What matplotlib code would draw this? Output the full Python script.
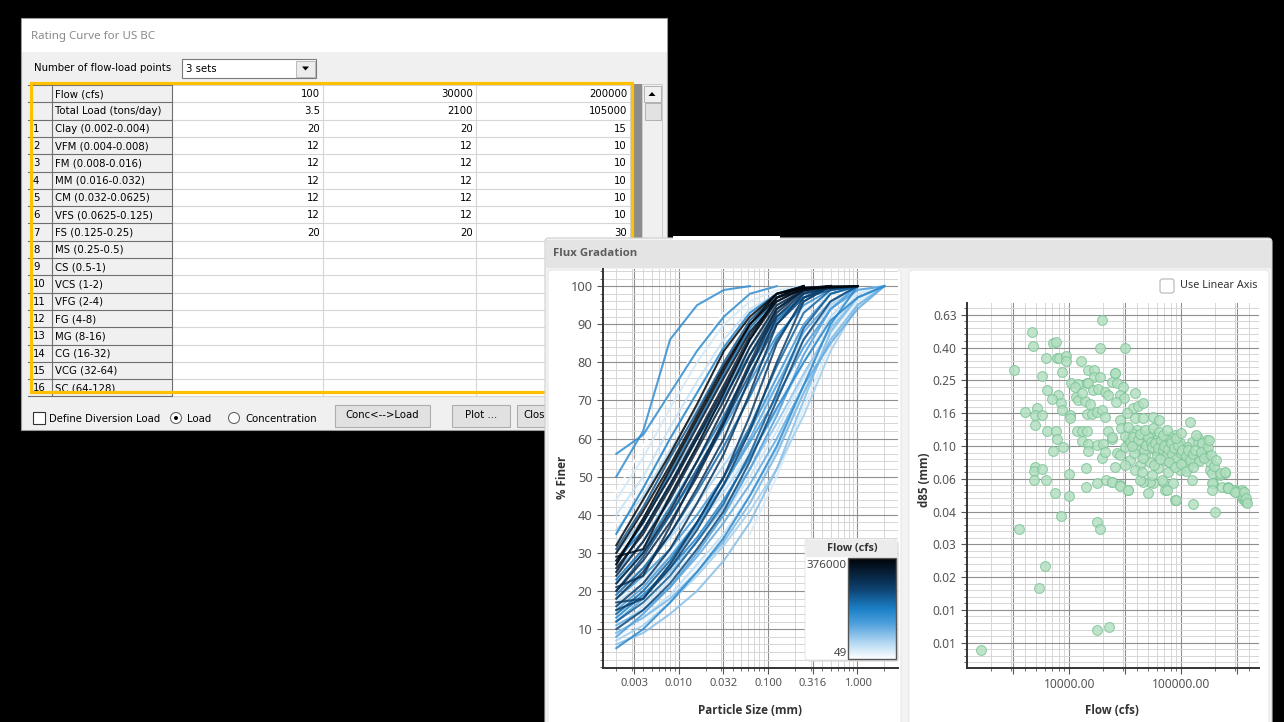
import numpy as np
import matplotlib.pyplot as plt
from matplotlib.patches import Rectangle, Circle, Polygon, FancyBboxPatch
from matplotlib.colors import LinearSegmentedColormap, Normalize
from matplotlib.cm import ScalarMappable
from matplotlib.ticker import FixedLocator, LogLocator, NullFormatter

plt.rcParams['font.family'] = ['Noto Sans', 'DejaVu Sans']

# ---------------- rating curve table ----------------
row_nums = ['', '', '1', '2', '3', '4', '5', '6', '7', '8', '9', '10', '11', '12', '13', '14', '15', '16']
row_names = ['Flow (cfs)', 'Total Load (tons/day)', 'Clay (0.002-0.004)', 'VFM (0.004-0.008)',
             'FM (0.008-0.016)', 'MM (0.016-0.032)', 'CM (0.032-0.0625)', 'VFS (0.0625-0.125)',
             'FS (0.125-0.25)', 'MS (0.25-0.5)', 'CS (0.5-1)', 'VCS (1-2)', 'VFG (2-4)', 'FG (4-8)',
             'MG (8-16)', 'CG (16-32)', 'VCG (32-64)', 'SC (64-128)']
set1 = ['100', '3.5', '20', '12', '12', '12', '12', '12', '20']
set2 = ['30000', '2100', '20', '12', '12', '12', '12', '12', '20']
set3 = ['200000', '105000', '15', '10', '10', '10', '10', '10', '30']

# ---------------- flux gradation curves ----------------
size_classes = [0.002, 0.004, 0.008, 0.016, 0.032, 0.0625, 0.125, 0.25, 0.5, 1.0, 2.0]
nan = np.nan
curve_flows = [3500, 6000, 9000, 12000, 15000, 18000, 22000, 26000, 30000,
               35000, 40000, 45000, 50000, 55000, 60000, 66000, 72000, 78000, 85000, 92000,
               100000, 108000, 115000, 122000, 130000, 138000, 146000, 154000, 160000, 164000,
               170000, 176000, 182000, 188000,
               196000, 204000, 212000, 220000, 228000, 236000, 244000, 252000,
               262000, 270000, 278000, 286000, 294000, 302000, 310000, 318000, 326000, 334000,
               342000, 350000, 358000, 366000, 376000]
curve_finer = [
    [46, 58, 72, 84, 93, 98, 100],
    [12, 17, 24, 33, 43, 54, 66, 80, 92, 98, 100],
    [38, 48, 60, 72, 84, 93, 98, 100],
    [22, 27, 35, 44, 54, 65, 76, 87, 95, 99, 100],
    [8, 12, 18, 26, 35, 46, 59, 73, 87, 96, 100],
    [33, 42, 53, 64, 75, 85, 93, 98, 100],
    [18, 23, 30, 38, 47, 57, 68, 82, 94, 100],
    [26, 33, 43, 54, 65, 76, 86, 94, 98, 100],
    [nan, nan, nan, nan, nan, 35, 50, 68, 85, 96, 100],
    [44, 55, 68, 80, 90, 96, 99, 100],
    [10, 16, 23, 31, 40, 50, 62, 76, 90, 98, 100],
    [40, 50, 63, 75, 86, 94, 98, 100],
    [9, 13, 19, 27, 35, 45, 57, 72, 88, 97, 100],
    [17, 22, 29, 37, 46, 56, 67, 80, 92, 99, 100],
    [36, 45, 57, 68, 79, 88, 95, 99, 100],
    [20, 26, 34, 43, 53, 63, 74, 86, 95, 100],
    [7, 11, 17, 24, 32, 41, 52, 66, 83, 95, 100],
    [30, 39, 50, 61, 72, 82, 91, 97, 100],
    [14, 19, 25, 33, 42, 52, 64, 77, 89, 97, 100],
    [6, 9, 14, 20, 28, 38, 52, 70, 88, 97, 100],
    [9, 13, 18, 25, 33, 43, 56, 72, 86, 95, 100],
    [25, 33, 45, 58, 72, 84, 94, 99, 100],
    [11, 15, 21, 29, 38, 48, 60, 74, 85, 94, 100],
    [12, 18, 27, 37, 48, 60, 74, 88, 96, 100],
    [8, 14, 21, 30, 40, 52, 66, 82, 94, 99, 100],
    [15, 21, 29, 38, 48, 59, 71, 84, 94, 100],
    [18, 24, 31, 40, 50, 62, 76, 90, 98, 100],
    [22, 30, 40, 51, 63, 75, 87, 95, 99, 100],
    [50, 62, 86, 95, 99, 100],
    [56, 61, 72, 83, 92, 98, 100],
    [5, 10, 17, 25, 34, 45, 58, 74, 90, 100],
    [13, 19, 26, 34, 44, 55, 68, 80, 91, 97, 100],
    [35, 47, 60, 72, 84, 93, 98, 100],
    [28, 36, 48, 60, 71, 82, 92, 97, 100],
    [27, 38, 51, 64, 77, 89, 97, 100],
    [23, 31, 42, 54, 66, 79, 91, 98, 100],
    [19, 26, 35, 46, 58, 71, 86, 96, 100],
    [14, 20, 28, 38, 50, 63, 79, 93, 99, 100],
    [12, 17, 24, 33, 43, 56, 72, 89, 98, 100],
    [31, 42, 55, 67, 80, 91, 98, 100],
    [20, 29, 40, 52, 64, 77, 90, 97, 99, 100],
    [10, 15, 22, 31, 41, 54, 70, 86, 96, 100],
    [17, 18, 26, 36, 48, 62, 80, 96, 100],
    [15, 18, 27, 38, 50, 66, 85, 97, 100],
    [16, 22, 31, 43, 56, 72, 90, 98, 99.5, 100],
    [18, 25, 35, 47, 60, 76, 92, 98.5, 100],
    [21, 24, 37, 51, 65, 80, 94, 99, 100],
    [20, 28, 38, 50, 64, 79, 93, 99, 100],
    [22, 30, 41, 54, 68, 82, 94, 99, 99.5, 100],
    [24, 33, 44, 57, 70, 84, 95, 99, 100],
    [25, 36, 48, 61, 74, 87, 97, 100],
    [26, 35, 47, 60, 73, 86, 96, 99.5, 100, 100],
    [28, 38, 50, 63, 76, 88, 96, 99.5, 100],
    [29, 31, 45, 58, 72, 86, 97, 100],
    [30, 41, 53, 66, 79, 90, 97, 99, 100],
    [32, 44, 56, 69, 83, 92, 98, 100],
    [27, 39, 52, 65, 78, 90, 98, 99.5, 99.7, 100],
]
flow_min, flow_max = 49, 376000

# ---------------- d85 vs flow ----------------
pt_flow = [
    19530, 4620, 4720, 18740, 7120, 7570, 3190, 6170, 7730, 8060,
    9310, 9310, 12670, 8570, 5680, 14640, 16560, 16560, 18740, 25480,
    10300, 11910, 14340, 6300, 7890, 6980, 8390, 8570, 4010, 5130,
    4910, 5680, 10100, 10100, 11430, 11910, 13760, 15270, 11190, 12930,
    14640, 16230, 17990, 20760, 22070, 14340, 15900, 17620, 19530, 20760,
    4910, 6300, 7570, 7730, 7120, 8750, 11660, 12930, 14340, 12930,
    14640, 14640, 17620, 19930, 19530, 20760, 22070, 23970, 4910, 4810,
    5680, 4810, 6170, 9900, 14050, 14050, 17620, 21190, 23970, 7420,
    9900, 8390, 3540, 17620, 18740, 6040, 5340, 17620, 22530, 1620,
    31310, 25480, 23970, 26550, 30060, 28260, 30680, 26010, 38410, 36870,
    40840, 45230, 32620, 28260, 38410, 45230, 55490, 62730, 118300, 23970,
    26550, 25480, 23970, 28260, 33290, 50100, 86980, 125800, 197900, 178700,
    190000, 219200, 243100, 253300, 299000, 345800, 352900, 375300, 123300, 83500,
    70920, 68080, 66700, 55490, 52190, 45230, 42540, 167800, 139600, 123300,
    154600, 161100, 145400, 118300, 111300, 96340, 86980, 78540, 73870, 64030,
    60220, 52190, 49080, 44320, 40010, 36120, 33290, 31310, 34680, 42540,
    52190, 61470, 70920, 81810, 96340, 106800, 131100, 47110, 57810, 38410,
    31310, 66700, 92480, 75400, 113600, 44320, 54370, 28260, 139600, 151500,
    167800, 178700, 186200, 219200, 243100, 186200, 186200, 228300, 258500, 287000,
    311400, 345800, 352900, 367700, 28260, 33290, 73870, 88780, 258500, 299000,
    360200, 375300, 383000,
    29000, 31000, 33000, 35000, 37000, 39000, 41000, 43000, 46000, 48000,
    50000, 53000, 55000, 58000, 60000, 62000, 65000, 68000, 70000, 72000,
    76000, 80000, 83000, 85000, 89000, 93000, 98000, 102000, 105000, 109000,
    115000, 120000, 126000, 133000, 142000, 150000, 158000, 172000, 182000, 195000,
    205000, 38000, 45000, 57000, 64000, 78000, 88000, 99000, 110000, 128000,
    36000, 47000, 56000, 63000, 69000, 74000, 90000, 100000, 134000, 175000,
]
pt_d85 = [
    0.586, 0.499, 0.407, 0.396, 0.424, 0.431, 0.290, 0.344, 0.344, 0.344,
    0.354, 0.330, 0.330, 0.282, 0.267, 0.290, 0.290, 0.263, 0.263, 0.278,
    0.242, 0.239, 0.242, 0.219, 0.204, 0.193, 0.183, 0.166, 0.161, 0.170,
    0.155, 0.155, 0.155, 0.148, 0.198, 0.191, 0.188, 0.180, 0.229, 0.210,
    0.242, 0.219, 0.223, 0.213, 0.204, 0.156, 0.156, 0.161, 0.166, 0.150,
    0.134, 0.123, 0.123, 0.110, 0.093, 0.0986, 0.123, 0.123, 0.123, 0.107,
    0.103, 0.093, 0.101, 0.103, 0.0845, 0.092, 0.123, 0.110, 0.0745, 0.0704,
    0.0724, 0.0620, 0.0620, 0.0675, 0.0734, 0.0562, 0.0595, 0.0620, 0.0603, 0.0517,
    0.0496, 0.0374, 0.0312, 0.0344, 0.0312, 0.0186, 0.0136, 0.0075, 0.0079, 0.0057,
    0.396, 0.278, 0.245, 0.242, 0.229, 0.204, 0.195, 0.185, 0.210, 0.170,
    0.175, 0.183, 0.159, 0.144, 0.148, 0.148, 0.150, 0.144, 0.140, 0.1135,
    0.0906, 0.0745, 0.0603, 0.0579, 0.0539, 0.0517, 0.0469, 0.0443, 0.0396, 0.0714,
    0.0595, 0.0666, 0.0685, 0.0555, 0.0539, 0.0524, 0.0475, 0.0456, 0.0620, 0.0595,
    0.0539, 0.0603, 0.0620, 0.0595, 0.0603, 0.0603, 0.0620, 0.109, 0.112, 0.106,
    0.0986, 0.088, 0.0857, 0.092, 0.0986, 0.104, 0.117, 0.1135, 0.109, 0.101,
    0.1135, 0.120, 0.109, 0.104, 0.125, 0.120, 0.109, 0.0986, 0.0822, 0.0766,
    0.0799, 0.0734, 0.0822, 0.0766, 0.0714, 0.0845, 0.0799, 0.088, 0.0945, 0.0714,
    0.0766, 0.092, 0.092, 0.0694, 0.0734, 0.0694, 0.0666, 0.088, 0.106, 0.104,
    0.092, 0.0799, 0.0685, 0.0685, 0.0694, 0.0595, 0.0539, 0.0562, 0.0562, 0.0539,
    0.0524, 0.0539, 0.0489, 0.0469, 0.0570, 0.0539, 0.0539, 0.0469, 0.0555, 0.0524,
    0.0524, 0.0482, 0.0450,
    0.128, 0.115, 0.131, 0.105, 0.113, 0.097, 0.108, 0.118, 0.095, 0.101,
    0.114, 0.106, 0.098, 0.104, 0.088, 0.097, 0.108, 0.094, 0.100, 0.087,
    0.096, 0.104, 0.089, 0.097, 0.083, 0.101, 0.090, 0.095, 0.079, 0.087,
    0.094, 0.082, 0.089, 0.095, 0.081, 0.092, 0.084, 0.098, 0.088, 0.075,
    0.082, 0.091, 0.084, 0.077, 0.083, 0.080, 0.074, 0.078, 0.070, 0.074,
    0.100, 0.125, 0.128, 0.122, 0.117, 0.126, 0.112, 0.120, 0.116, 0.108,
]

W, H = 1284, 722
fig = plt.figure(figsize=(W / 100, H / 100), dpi=100, facecolor='black')

bg = fig.add_axes([0, 0, 1, 1])
bg.set_xlim(0, W)
bg.set_ylim(H, 0)
bg.axis('off')


def px_axes(x0, y0, x1, y1, **kw):
    return fig.add_axes([x0 / W, 1 - y1 / H, (x1 - x0) / W, (y1 - y0) / H], **kw)


ui = dict(family=['DejaVu Sans'], fontsize=7.3, color='black', va='center')
bold = ['Open Sans', 'DejaVu Sans']

# ---- dialog window ----
bg.add_patch(Rectangle((21, 18), 646, 412, fc='#f0f0f0', ec='#9a9a9a', lw=0.8))
bg.add_patch(Rectangle((21.5, 18.5), 645, 33, fc='white', ec='none'))
bg.text(31, 36, 'Rating Curve for US BC', fontsize=8.3, color='#8a8a8a', va='center')
bg.text(34, 68, 'Number of flow-load points', **ui)
bg.add_patch(Rectangle((182, 59), 134, 19, fc='white', ec='#7a7a7a', lw=0.8))
bg.text(186, 68.5, '3 sets', **ui)
bg.add_patch(Rectangle((296, 60.5), 18.5, 16, fc='#ececec', ec='#b0b0b0', lw=0.6))
bg.add_patch(Polygon([[302, 66.5], [309, 66.5], [305.5, 70.5]], fc='black'))

# table
row_top, row_h = 85, 17.3
n_rows = len(row_names)
tab_bot = row_top + n_rows * row_h
bg.add_patch(Rectangle((28, 84), 144, tab_bot - 84, fc='#f0f0f0', ec='none'))
bg.add_patch(Rectangle((172, 84), 458, tab_bot - 84, fc='white', ec='none'))
bg.add_patch(Rectangle((630, 84), 12, tab_bot - 84, fc='#8c8c8c', ec='none'))
for i in range(n_rows + 1):
    y = row_top + i * row_h
    bg.plot([28, 172], [y, y], color='#6e6e6e', lw=0.8)
    bg.plot([172, 630], [y, y], color='#d6d6d6', lw=0.8)
for x in [52, 172]:
    bg.plot([x, x], [84, tab_bot], color='#6e6e6e', lw=0.8)
for x in [323, 476, 630]:
    bg.plot([x, x], [84, tab_bot], color='#d6d6d6', lw=0.8)
for i, (num, name) in enumerate(zip(row_nums, row_names)):
    yc = row_top + (i + 0.5) * row_h + 0.5
    bg.text(33, yc, num, **ui)
    bg.text(55, yc, name, **ui)
for i in range(len(set1)):
    yc = row_top + (i + 0.5) * row_h + 0.5
    bg.text(320, yc, set1[i], ha='right', **ui)
    bg.text(473, yc, set2[i], ha='right', **ui)
    bg.text(627, yc, set3[i], ha='right', **ui)
bg.add_patch(Rectangle((28, tab_bot), 614, 400 - tab_bot, fc='#f0f0f0', ec='none'))

# scrollbar
bg.add_patch(Rectangle((642, 84), 20, 314, fc='#f0f0f0', ec='#c8c8c8', lw=0.6))
bg.add_patch(Rectangle((643.5, 85.5), 17, 16, fc='#f0f0f0', ec='#a8a8a8', lw=0.6))
bg.add_patch(Polygon([[648.5, 96], [655.5, 96], [652, 92]], fc='black'))
bg.add_patch(Rectangle((644.5, 102.5), 16, 17, fc='#e2e2e2', ec='#a8a8a8', lw=0.6))

# highlight rectangle
bg.add_patch(Rectangle((31, 83), 601, 309, fill=False, ec='#ffc000', lw=2.3, zorder=5))

# bottom controls
bg.add_patch(Rectangle((33, 412), 12, 12, fc='white', ec='#333333', lw=0.8))
bg.text(49, 418.5, 'Define Diversion Load', **ui)
bg.add_patch(Circle((176, 418), 5.5, fc='white', ec='#666666', lw=0.8))
bg.add_patch(Circle((176, 418), 2, fc='black', ec='none'))
bg.text(187, 418.5, 'Load', **ui)
bg.add_patch(Circle((234, 418), 5.5, fc='white', ec='#666666', lw=0.8))
bg.text(245, 418.5, 'Concentration', **ui)
for bx, bw, lab in [(335, 95, 'Conc<-->Load'), (452, 58, 'Plot ...'), (517, 40, 'Close')]:
    bg.add_patch(Rectangle((bx, 405), bw, 22, fc='#e1e1e1', ec='#adadad', lw=0.8))
    bg.text(bx + bw / 2, 415.5, lab, ha='center', **ui)

# ---- flux gradation panel ----
bg.add_patch(FancyBboxPatch((545, 238), 727, 490, boxstyle='round,pad=0,rounding_size=4',
                            fc='#f3f3f3', ec='#cfcfcf', lw=0.8, zorder=6))
bg.add_patch(Rectangle((546, 240), 725, 28, fc='#e4e4e4', ec='none', zorder=6))
bg.add_patch(Rectangle((673, 236), 107, 4, fc='white', ec='none', zorder=6))
bg.text(553, 254, 'Flux Gradation', family=bold, fontsize=8.2, color='#5c5c5c', weight='bold',
        va='center', zorder=7)
bg.add_patch(FancyBboxPatch((548, 270), 353, 460, boxstyle='round,pad=0,rounding_size=4',
                            fc='white', ec='#e2e2e2', lw=0.6, zorder=6))
bg.add_patch(FancyBboxPatch((909, 270), 360, 460, boxstyle='round,pad=0,rounding_size=4',
                            fc='white', ec='#e2e2e2', lw=0.6, zorder=6))

lab = dict(family=bold, fontsize=8.4, color='#333333', weight='bold', ha='center', va='center', zorder=7)
bg.text(562, 477, '% Finer', rotation=90, **lab)
bg.text(750, 711, 'Particle Size (mm)', **lab)
bg.text(925, 480, 'd85 (mm)', rotation=90, **lab)
bg.text(1112, 711, 'Flow (cfs)', **lab)

bg.add_patch(FancyBboxPatch((1160, 279), 14, 14, boxstyle='round,pad=0,rounding_size=2.5',
                            fc='white', ec='#b5b5b5', lw=0.8, zorder=7))
bg.text(1180, 286, 'Use Linear Axis', fontsize=7.8, color='#333333', va='center', zorder=7)

cmap = LinearSegmentedColormap.from_list('flow', [(0.0, '#ffffff'), (0.15, '#b8daf3'), (0.35, '#4d9fdb'),
                                                  (0.5, '#1b7fc6'), (0.7, '#0d406d'), (0.88, '#061a30'),
                                                  (1.0, '#010306')])
norm = Normalize(flow_min, flow_max)


def style_axes(ax):
    for s in ['top', 'right']:
        ax.spines[s].set_visible(False)
    for s in ['left', 'bottom']:
        ax.spines[s].set_color('#333333')
        ax.spines[s].set_linewidth(1.4)
    ax.tick_params(which='both', direction='out', color='#555555', labelcolor='#555555', labelsize=8.6)
    ax.tick_params(which='major', length=4, width=0.8)
    ax.tick_params(which='minor', length=2.5, width=0.6)
    ax.grid(which='major', color='#8f8f8f', lw=0.8)
    ax.grid(which='minor', color='#d6d6d6', lw=0.7)
    ax.set_axisbelow(True)


# left plot: gradation curves
ax1 = px_axes(603, 269, 898, 668)
ax1.set_xscale('log')
order = np.argsort(curve_flows)
for k in order:
    vals = curve_finer[k]
    ax1.plot(size_classes[:len(vals)], vals, color=cmap(norm(curve_flows[k])), lw=1.5, alpha=0.85)
ax1.set_xlim(0.00142, 2.84)
ax1.set_ylim(-0.2, 104.5)
xmaj = 10 ** np.arange(-2.5, 0.01, 0.5)
ax1.xaxis.set_major_locator(FixedLocator(xmaj))
ax1.set_xticklabels(['%.3f' % v for v in xmaj])
ax1.xaxis.set_minor_locator(LogLocator(base=10, subs=np.arange(2, 10), numticks=30))
ax1.xaxis.set_minor_formatter(NullFormatter())
ax1.set_yticks(np.arange(10, 101, 10))
ax1.yaxis.set_minor_locator(FixedLocator(np.arange(0, 105, 2)))
style_axes(ax1)
ax1.tick_params(axis='y', labelsize=9.3)
ax1.tick_params(axis='x', labelsize=8.0)

# colour legend box
ov = fig.add_axes([0, 0, 1, 1], facecolor='none')
ov.set_xlim(0, W)
ov.set_ylim(H, 0)
ov.axis('off')
ov.add_patch(FancyBboxPatch((807, 541), 92, 121, boxstyle='round,pad=0,rounding_size=3',
                            fc='#d8d8d8', ec='none', alpha=0.6))
ov.add_patch(FancyBboxPatch((805, 539), 92, 121, boxstyle='round,pad=0,rounding_size=3',
                            fc='white', ec='#e0e0e0', lw=0.6))
ov.add_patch(Rectangle((805.5, 539.5), 91, 17, fc='#ececec', ec='none'))
ov.text(852, 548.5, 'Flow (cfs)', family=bold, fontsize=7.8, color='#333333', weight='bold',
        ha='center', va='center')
ov.text(847, 566, str(flow_max), fontsize=8.3, color='#444444', ha='right', va='center')
ov.text(847, 653, str(flow_min), fontsize=8.3, color='#444444', ha='right', va='center')
cax = px_axes(848, 558, 896, 659)
cb = fig.colorbar(ScalarMappable(norm=norm, cmap=cmap), cax=cax)
cb.set_ticks([])
cb.outline.set_edgecolor('#555555')
cb.outline.set_linewidth(1.0)

# right plot: d85 vs flow
ax2 = px_axes(967, 303, 1259, 668)
ax2.set_xscale('log')
ax2.set_yscale('log')
ax2.scatter(pt_flow, pt_d85, s=50, facecolor='#b2dfc0', edgecolor='#7cc497', lw=0.8, alpha=0.8, zorder=3)
ax2.set_xlim(1217, 492000)
ax2.set_ylim(0.00442, 0.745)
x2maj = 10 ** np.arange(3.5, 5.51, 0.5)
ax2.xaxis.set_major_locator(FixedLocator(x2maj))
ax2.set_xticklabels(['%.2f' % v if abs(np.log10(v) % 1) < 1e-9 else '' for v in x2maj])
ax2.xaxis.set_minor_locator(LogLocator(base=10, subs=np.arange(2, 10), numticks=30))
ax2.xaxis.set_minor_formatter(NullFormatter())
y2maj = 10 ** (-0.2 * np.arange(1, 12))
ax2.yaxis.set_major_locator(FixedLocator(y2maj))
ax2.set_yticklabels(['%.2f' % v for v in y2maj])
ax2.yaxis.set_minor_locator(FixedLocator(10 ** np.arange(-2.4, 0.0, 0.04)))
ax2.yaxis.set_minor_formatter(NullFormatter())
style_axes(ax2)

fig.savefig('out.png', dpi=100, facecolor='black')
